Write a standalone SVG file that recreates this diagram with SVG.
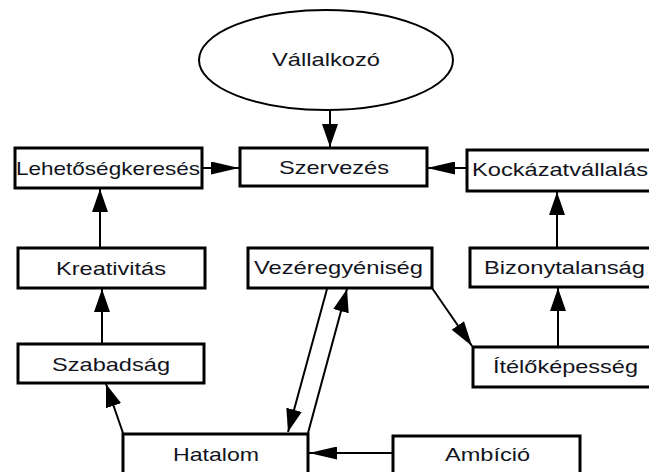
<svg xmlns="http://www.w3.org/2000/svg" width="649" height="472" viewBox="0 0 649 472">
  <style>
    .box { fill: #ffffff; stroke: #000000; stroke-width: 3; }
    .oval { fill: #ffffff; stroke: #000000; stroke-width: 2; }
    .lbl { font-family: "Liberation Sans", Arial, sans-serif; font-size: 19px; fill: #121420; }
    .edge { fill: none; stroke: #000000; stroke-width: 2; }
    .v { marker-end: url(#headV); }
    .h { marker-end: url(#headH); }
    .d { marker-end: url(#headD); }
  </style>
  <defs>
    <!-- filled triangular heads; wider along x because the lettering is stretched that way too -->
    <marker id="headV" markerUnits="userSpaceOnUse" markerWidth="23" markerHeight="16" viewBox="0 0 23 16" refX="23" refY="8" orient="auto">
      <path d="M0,0 L23,8 L0,16 z" fill="#000"/>
    </marker>
    <marker id="headH" markerUnits="userSpaceOnUse" markerWidth="28" markerHeight="13" viewBox="0 0 28 13" refX="28" refY="6.5" orient="auto">
      <path d="M0,0 L28,6.5 L0,13 z" fill="#000"/>
    </marker>
    <marker id="headD" markerUnits="userSpaceOnUse" markerWidth="25" markerHeight="15" viewBox="0 0 25 15" refX="25" refY="7.5" orient="auto">
      <path d="M0,0 L25,7.5 L0,15 z" fill="#000"/>
    </marker>
  </defs>

  <g id="connectors">
    <line class="edge v" x1="330" y1="110" x2="330" y2="147"/>
    <line class="edge h" x1="202" y1="168" x2="239" y2="168"/>
    <line class="edge h" x1="466" y1="168" x2="427" y2="168"/>
    <line class="edge v" x1="100" y1="248" x2="100" y2="189"/>
    <line class="edge v" x1="102" y1="343" x2="102" y2="289"/>
    <line class="edge v" x1="123" y1="433" x2="106" y2="384"/>
    <line class="edge v" x1="327" y1="289" x2="288" y2="432"/>
    <line class="edge v" x1="308" y1="433" x2="347" y2="289"/>
    <line class="edge d" x1="432" y1="288" x2="472" y2="346"/>
    <line class="edge v" x1="558" y1="346" x2="558" y2="288"/>
    <line class="edge v" x1="557" y1="247" x2="557" y2="192"/>
    <line class="edge h" x1="393" y1="453" x2="309" y2="453"/>
  </g>

  <g id="vallalkozo">
    <ellipse class="oval" cx="326" cy="60" rx="127" ry="50"/>
    <text class="lbl" x="272" y="66" textLength="108" lengthAdjust="spacingAndGlyphs">Vállalkozó</text>
  </g>

  <g id="szervezes">
    <rect class="box" x="240" y="148" width="187" height="38"/>
    <text class="lbl" x="279" y="174" textLength="110" lengthAdjust="spacingAndGlyphs">Szervezés</text>
  </g>

  <g id="lehetosegkereses">
    <rect class="box" x="15" y="148" width="187" height="40"/>
    <text class="lbl" x="16" y="175" textLength="184" lengthAdjust="spacingAndGlyphs">Lehetőségkeresés</text>
  </g>

  <g id="kockazatvallalas">
    <rect class="box" x="467" y="150" width="200" height="41"/>
    <text class="lbl" x="472" y="176" textLength="176" lengthAdjust="spacingAndGlyphs">Kockázatvállalás</text>
  </g>

  <g id="kreativitas">
    <rect class="box" x="18" y="248" width="187" height="40"/>
    <text class="lbl" x="56" y="275" textLength="110" lengthAdjust="spacingAndGlyphs">Kreativitás</text>
  </g>

  <g id="vezeregyeniseg">
    <rect class="box" x="248" y="248" width="184" height="40"/>
    <text class="lbl" x="254" y="274" textLength="169" lengthAdjust="spacingAndGlyphs">Vezéregyéniség</text>
  </g>

  <g id="bizonytalansag">
    <rect class="box" x="470" y="248" width="200" height="39"/>
    <text class="lbl" x="484" y="274" textLength="161" lengthAdjust="spacingAndGlyphs">Bizonytalanság</text>
  </g>

  <g id="szabadsag">
    <rect class="box" x="18" y="344" width="186" height="39"/>
    <text class="lbl" x="52" y="371" textLength="118" lengthAdjust="spacingAndGlyphs">Szabadság</text>
  </g>

  <g id="itelokepesseg">
    <rect class="box" x="473" y="347" width="200" height="40"/>
    <text class="lbl" x="493" y="373" textLength="145" lengthAdjust="spacingAndGlyphs">Ítélőképesség</text>
  </g>

  <g id="hatalom">
    <rect class="box" x="123" y="434" width="185" height="50"/>
    <text class="lbl" x="173" y="461" textLength="86" lengthAdjust="spacingAndGlyphs">Hatalom</text>
  </g>

  <g id="ambicio">
    <rect class="box" x="393" y="436" width="187" height="50"/>
    <text class="lbl" x="445" y="461" textLength="85" lengthAdjust="spacingAndGlyphs">Ambíció</text>
  </g>
</svg>
